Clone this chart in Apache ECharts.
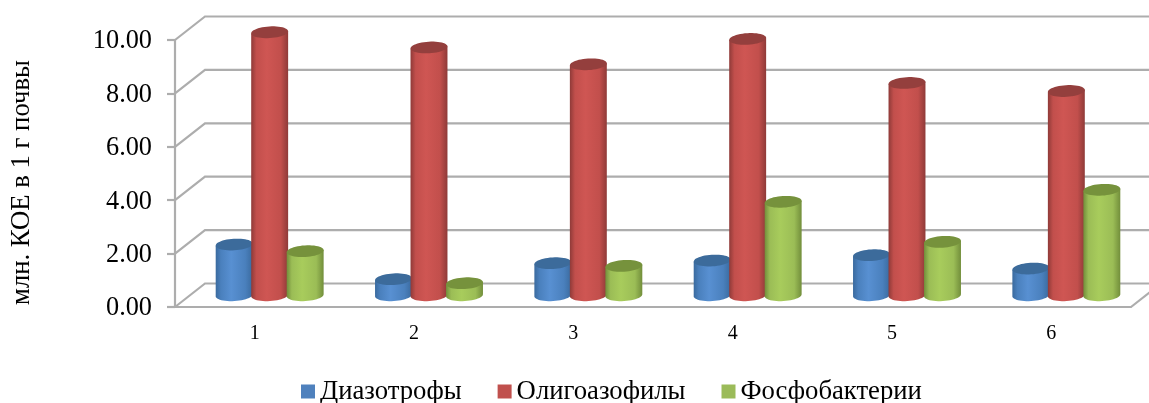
<!DOCTYPE html>
<html>
<head>
<meta charset="utf-8">
<style>html,body{margin:0;padding:0;background:#fff}#chart{width:1149px;height:403px}</style>
<script src="https://cdn.jsdelivr.net/npm/echarts@6/dist/echarts.min.js"></script>
</head>
<body>
<div id="chart"></div>
<script>
const categories = ['1', '2', '3', '4', '5', '6'];
const diazotrophs = [1.9, 0.6, 1.2, 1.3, 1.5, 1.0];
const oligoazophiles = [9.85, 9.28, 8.65, 9.6, 7.95, 7.65];
const phosphobacteria = [1.65, 0.45, 1.1, 3.5, 2.0, 3.95];
const yTicks = [0, 2, 4, 6, 8, 10];
const seriesNames = ['Диазотрофы', 'Олигоазофилы', 'Фосфобактерии'];

const FONT = '"Liberation Serif", "Times New Roman", serif';
const WALL = '#adadad';
// Depth of the chart box, in pixels, from the front plane to the back wall.
const DEPTH_X = 30, DEPTH_Y = 23.5;

function ellipsePoint(cx, cy, rx, ry, t) {
  const a = -3.5 * Math.PI / 180;
  return [
    cx + rx * Math.cos(t) * Math.cos(a) - ry * Math.sin(t) * Math.sin(a),
    cy + rx * Math.cos(t) * Math.sin(a) + ry * Math.sin(t) * Math.cos(a)
  ];
}

function sideGradient(p) {
  return {
    type: 'linear', x: 0, y: 0, x2: 1, y2: 0,
    colorStops: [
      { offset: 0, color: p.edge }, { offset: 0.14, color: p.mid },
      { offset: 0.42, color: p.light }, { offset: 0.8, color: p.mid },
      { offset: 1, color: p.edge }
    ]
  };
}

// Cylinder drawn in the middle of the box depth, positioned from the value axis.
function cylinder(slot, palette) {
  return function (params, api) {
    const base = api.coord([api.value(0), 0]);
    const top = api.coord([api.value(0), api.value(1)]);
    const band = api.size([1, 0])[0];
    const cx = base[0] + DEPTH_X / 2 + slot * band * 0.2228;
    const yBase = base[1] - DEPTH_Y / 2;
    const yTop = top[1] - DEPTH_Y / 2;
    const rx = 18.5, ry = 5.8;
    const side = [];
    for (let i = 0; i <= 24; i++) {
      side.push(ellipsePoint(cx, yBase, rx, ry, Math.PI - Math.PI * i / 24));
    }
    side.push(ellipsePoint(cx, yTop, rx, ry, 0));
    side.push(ellipsePoint(cx, yTop, rx, ry, Math.PI));
    const cap = [];
    for (let i = 0; i < 48; i++) {
      cap.push(ellipsePoint(cx, yTop, rx, ry, Math.PI * 2 * i / 48));
    }
    return {
      type: 'group',
      children: [
        { type: 'polygon', shape: { points: side }, style: { fill: sideGradient(palette) } },
        { type: 'polygon', shape: { points: cap }, style: { fill: palette.cap } }
      ]
    };
  };
}

// Back wall gridlines together with the diagonals running to the front plane.
function wallLine(params, api) {
  const sys = params.coordSys;
  const y = api.coord([0, api.value(0)])[1];
  const points = [
    [sys.x, y],
    [sys.x + DEPTH_X, y - DEPTH_Y],
    [sys.x + sys.width + DEPTH_X, y - DEPTH_Y]
  ];
  const children = [{
    type: 'polyline', shape: { points },
    style: { fill: 'none', stroke: WALL, lineWidth: 2.2 }
  }];
  if (api.value(0) === 0) {
    children.push({
      type: 'line',
      shape: { x1: sys.x + sys.width, y1: y, x2: sys.x + sys.width + DEPTH_X, y2: y - DEPTH_Y },
      style: { stroke: WALL, lineWidth: 2.2 }
    });
  }
  return { type: 'group', children };
}

const palettes = [
  { edge: '#3a6a9e', mid: '#4a80bd', light: '#5890d2', cap: '#3c6b9b', legend: '#4f81bd' },
  { edge: '#8f3a38', mid: '#c24f4c', light: '#cf5653', cap: '#943f3d', legend: '#c0504d' },
  { edge: '#728e3b', mid: '#9bbd56', light: '#a8cc5c', cap: '#76923c', legend: '#9bbb59' }
];
const seriesValues = [diazotrophs, oligoazophiles, phosphobacteria];

const chart = echarts.init(document.getElementById('chart'), null, { renderer: 'canvas' });
chart.setOption({
  animation: false,
  backgroundColor: '#ffffff',
  grid: { left: 175, right: 18, top: 40, height: 267 },
  legend: {
    data: seriesNames.map((name, i) => ({
      name, icon: 'rect', itemStyle: { color: palettes[i].legend }
    })),
    left: 296, top: 373,
    itemWidth: 14, itemHeight: 14, itemGap: 36,
    selectedMode: false,
    textStyle: { fontFamily: FONT, fontSize: 26.7, color: '#000' }
  },
  xAxis: {
    type: 'category',
    data: categories,
    axisLine: { lineStyle: { color: WALL, width: 2.2 } },
    axisTick: { length: 8, lineStyle: { color: WALL, width: 2.2 } },
    axisLabel: { fontFamily: FONT, fontSize: 20, color: '#000', margin: 17 }
  },
  yAxis: {
    type: 'value', min: 0, max: 10, interval: 2,
    splitLine: { show: false },
    axisLine: { show: true, lineStyle: { color: WALL, width: 2.2 } },
    axisTick: { show: true, length: 8, lineStyle: { color: WALL, width: 2.2 } },
    axisLabel: {
      fontFamily: FONT, fontSize: 26.3, color: '#000', margin: 23,
      verticalAlign: 'top', lineHeight: 3,
      formatter: v => v.toFixed(2)
    }
  },
  graphic: [{
    type: 'text', x: 22, y: 182.5, rotation: Math.PI / 2,
    style: {
      text: 'млн. КОЕ в 1 г почвы', fontFamily: FONT, fontSize: 26.7,
      fill: '#000', align: 'center', verticalAlign: 'middle'
    }
  }],
  series: [
    {
      type: 'custom', name: 'wall', silent: true, clip: false, z: 1,
      encode: { y: 0 },
      data: yTicks.map(v => [v]),
      renderItem: wallLine
    },
    ...seriesNames.map((name, i) => ({
      type: 'custom', name, clip: false, z: 3 + i,
      itemStyle: { color: palettes[i].legend },
      encode: { x: 0, y: 1 },
      data: seriesValues[i].map((v, c) => [c, v]),
      renderItem: cylinder(i - 1, palettes[i])
    }))
  ]
});
</script>
</body>
</html>
